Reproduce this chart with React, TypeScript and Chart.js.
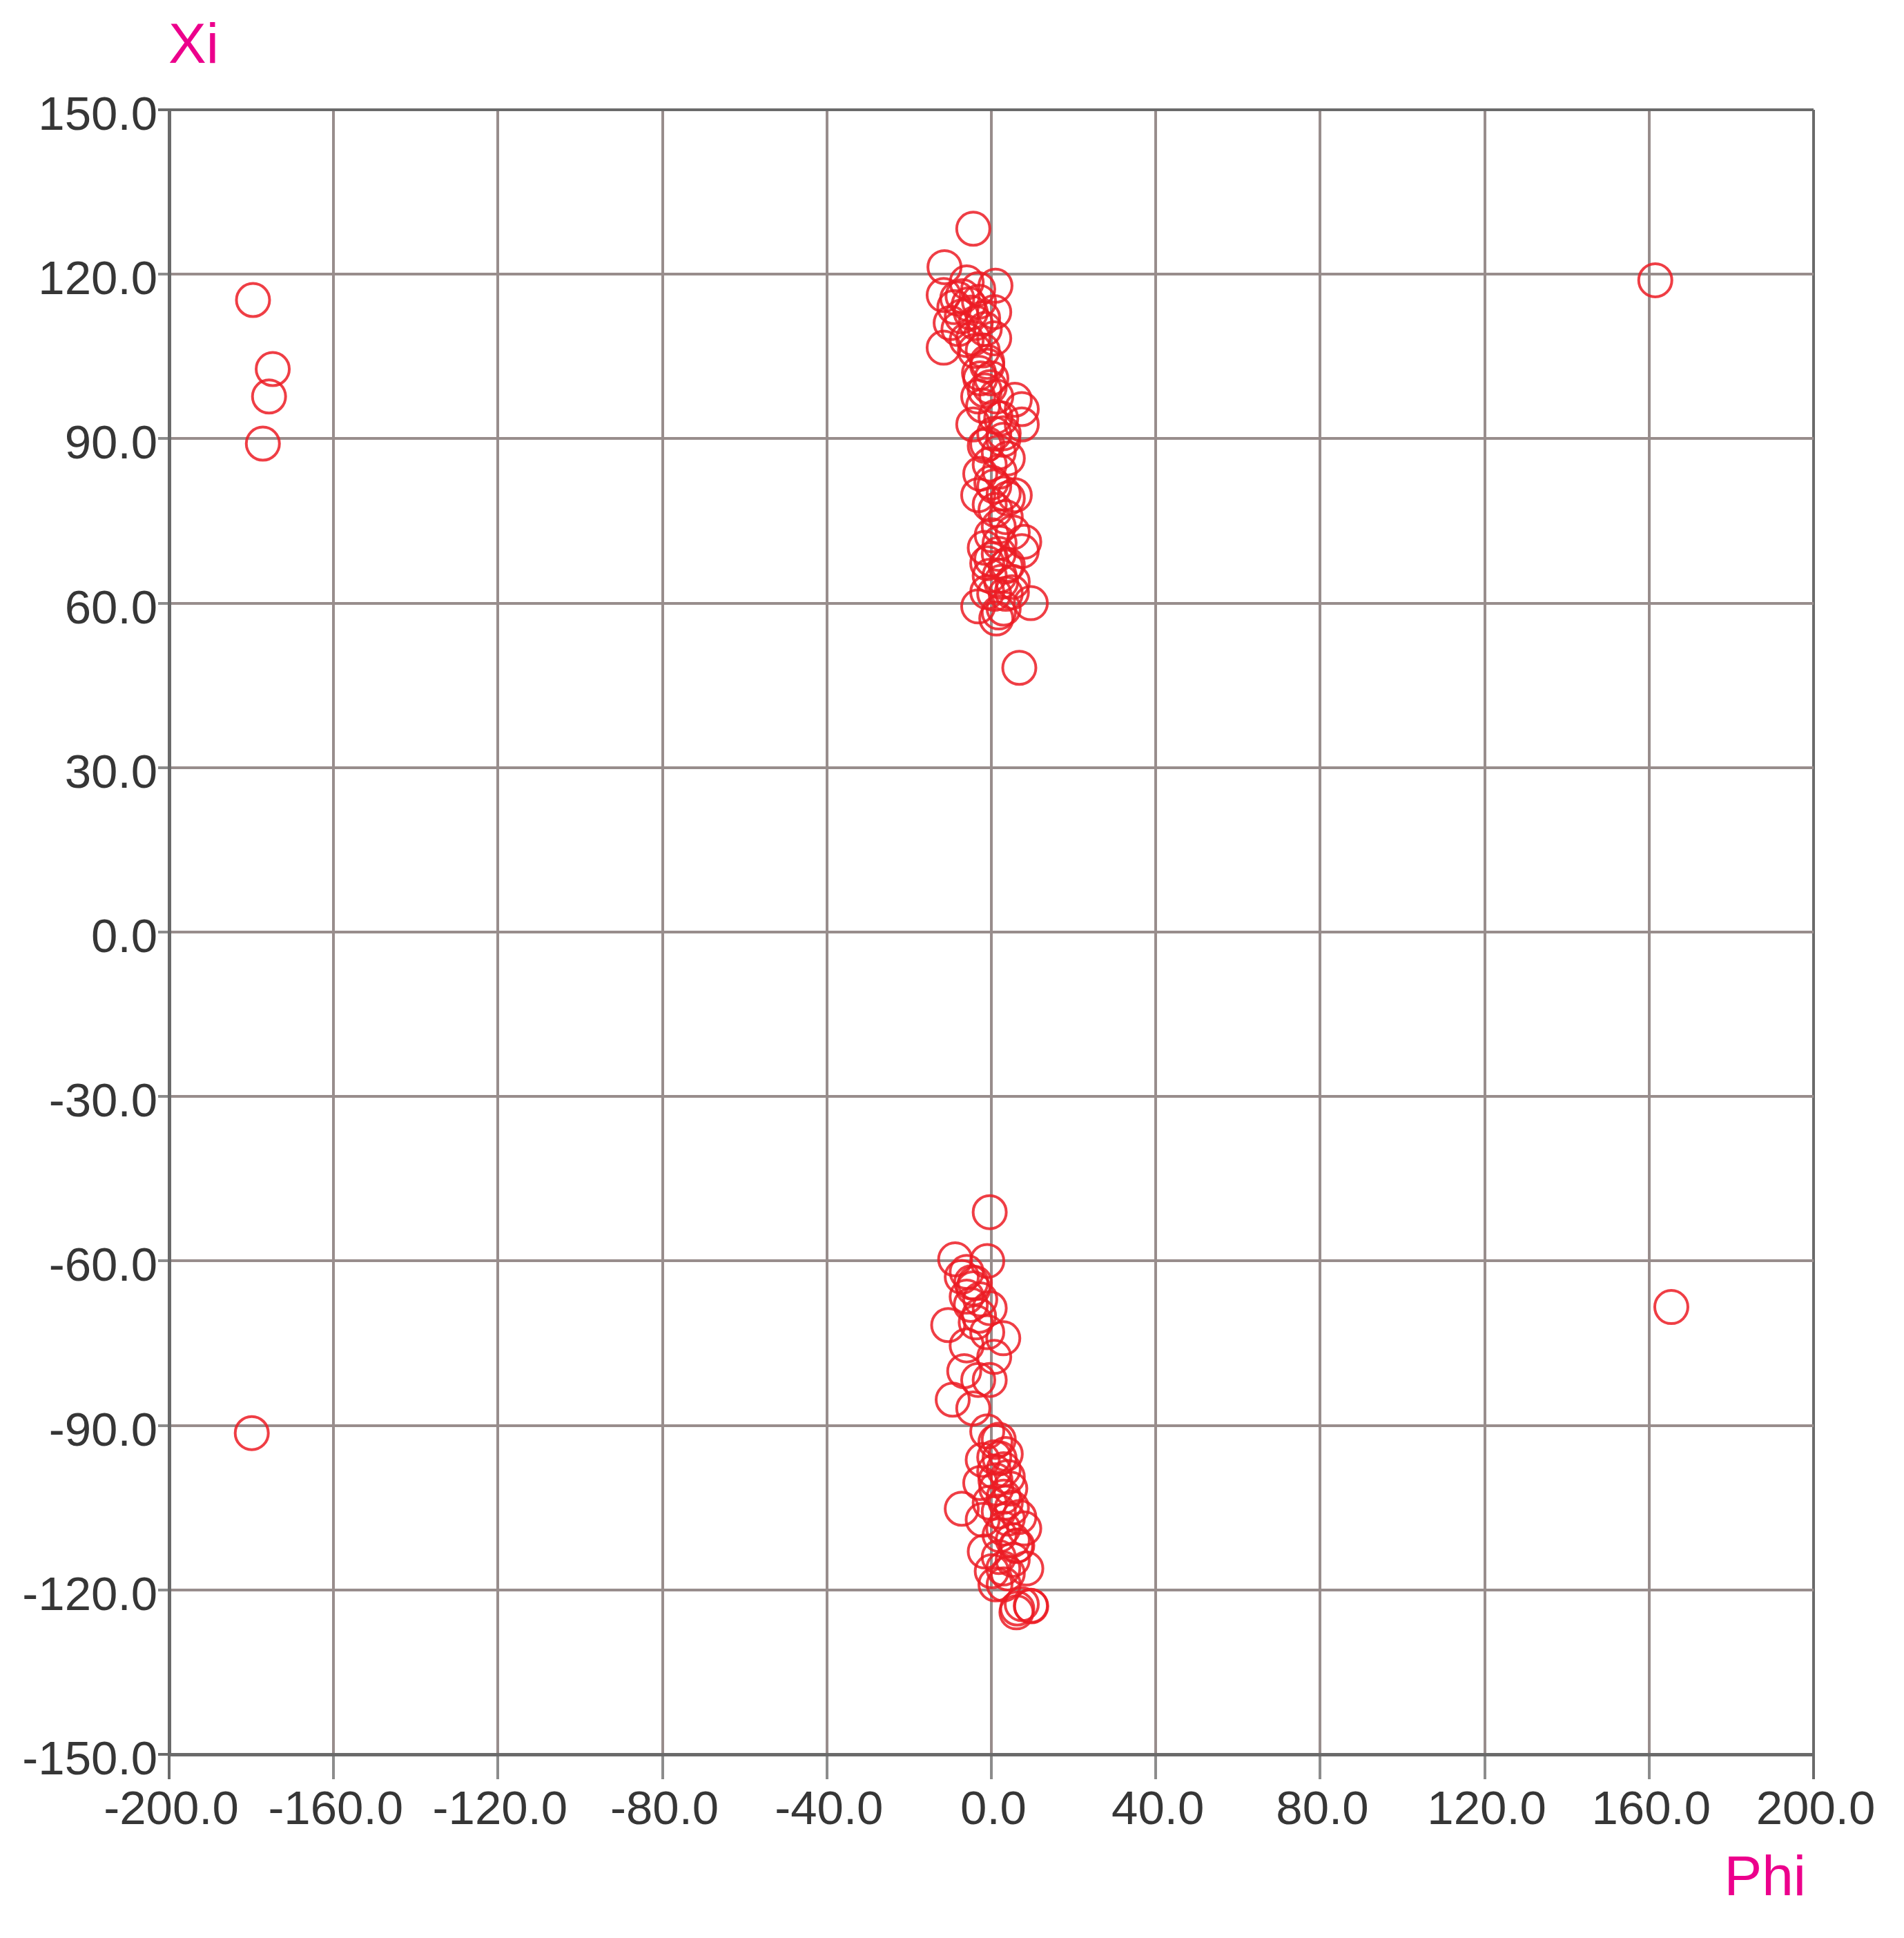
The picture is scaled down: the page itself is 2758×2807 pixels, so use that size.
import React, { useEffect, useRef } from "react";
import { Chart, registerables } from "chart.js";

Chart.register(...registerables);

const xTicks = [-200, -160, -120, -80, -40, 0, 40, 80, 120, 160, 200];
const yTicks = [-150, -120, -90, -60, -30, 0, 30, 60, 90, 120, 150];
const xTitle = "Phi";
const yTitle = "Xi";

const phiValues = [
  // isolated
  -179.6, -174.8, -175.7, -177.2, -179.9, 161.5, 165.4,
  // upper cluster
  -4.4, -11.4, 1.0, -11.6, -8.3, -5.5, 0.7, -9.9, -11.6, -4.4,
  -2.1, -1.6, -1.0, -2.7, -0.4, -3.2, 1.2, 5.7, 7.4, -4.4,
  2.4, 7.4, 0.7, -1.6, 1.8, 4.0, -0.4, -2.7, 0.7, -3.2,
  4.0, 5.7, -0.4, 1.8, 5.2, 8.0, -1.6, 1.8, 7.4, -1.0,
  3.5, -0.4, 2.4, 3.5, -3.2, 1.8, 9.6, 1.2, 6.8, -6.0,
  -3.2, -7.2, -3.8, 0.7, -1.6, 2.9, 0.1, 3.5, 0.7, 5.2,
  -9.0, -7.0, -5.0, -3.0, -8.0, -6.0, -2.0, -4.0, -1.0, -3.0,
  0.0, -2.0, 1.0, 3.0, -1.0, 2.0, 0.0, 3.0, 1.0, 2.0,
  0.0, 4.0, 2.0, 5.0, -1.0, 3.0,
  // lower cluster
  -0.4, -8.8, -1.0, -7.2, -4.4, -6.0, -2.7, -0.4, -10.5, -3.8,
  2.9, -6.0, 0.7, -6.6, -3.2, -0.4, -9.4, -4.4, -1.0, 1.8,
  3.5, -2.1, 0.7, 4.0, -2.7, 4.6, -7.2, -0.4, 1.8, 6.8,
  -2.1, 8.0, 2.9, 5.2, -1.6, 8.5, 1.8, 2.9, 0.1, 6.3,
  9.6, -4.9, 0.7, 1.2, 3.5, 6.3, 5.2, 6.1, 9.7, 7.4,
  -6.0, -4.0, -5.0, -3.0, -1.0, 1.0, 2.0, 3.0, 1.0, 3.0,
  5.0, 4.0, 2.0, 6.0, 4.0, 1.0, 3.0,
];

const xiValues = [
  // isolated
  115.3, 102.7, 97.7, 89.1, -91.4, 118.9, -68.4,
  // upper cluster
  128.3, 121.3, 117.9, 116.2, 115.6, 114.5, 113.1, 111.1, 106.6, 108.3,
  106.1, 110.0, 103.3, 101.0, 99.4, 97.7, 97.7, 97.1, 95.4, 92.6,
  93.7, 92.6, 90.9, 88.7, 87.5, 86.4, 85.3, 83.6, 81.3, 79.7,
  79.1, 79.7, 78.0, 74.0, 72.9, 71.2, 70.1, 69.0, 69.5, 67.3,
  66.7, 65.0, 63.9, 61.7, 59.4, 58.3, 60.0, 57.2, 48.2, 118.5,
  117.3, 112.3, 111.1, 108.3, 98.8, 89.8, 72.4, 75.7, 61.7, 63.9,
  114.0, 116.0, 113.0, 115.0, 110.0, 108.0, 112.0, 106.0, 104.0, 102.0,
  101.0, 96.0, 94.0, 91.0, 89.0, 84.0, 82.0, 80.0, 77.0, 71.0,
  68.0, 67.0, 65.0, 62.0, 62.0, 59.0,
  // lower cluster
  -51.1, -59.7, -60.0, -62.9, -65.0, -66.5, -67.0, -68.6, -71.7, -71.2,
  -74.1, -75.4, -77.5, -80.1, -81.7, -81.7, -85.3, -86.9, -91.1, -92.6,
  -95.2, -96.3, -98.4, -99.4, -100.5, -101.5, -105.2, -104.1, -105.7, -106.7,
  -107.2, -108.8, -108.8, -110.9, -113.0, -116.1, -114.0, -116.1, -116.6, -123.4,
  -122.9, -63.9, -95.8, -101.5, -104.1, -111.9, -114.5, -124.1, -123.0, -122.6,
  -62.0, -64.0, -68.0, -70.0, -73.0, -93.0, -96.0, -98.0, -100.0, -103.0,
  -105.0, -107.0, -110.0, -112.0, -117.0, -119.0, -119.0,
];

const W = 2758;
const H = 2807;
const PLOT_LEFT = 245;
const PLOT_RIGHT = 2627;
const PLOT_TOP = 159;
const PLOT_BOTTOM = 2541;

const FONT = "'Liberation Sans', Arial, Helvetica, sans-serif";
const GRID = "#988d8c";
const BORDER = "#6a6a6a";
const TICK_TEXT = "#363636";
const TITLE = "#ec008c";
const POINT = "rgba(236, 28, 36, 0.85)";

const titlePlugin = {
  id: "axisTitles",
  afterDraw(chart: any) {
    const ctx = chart.ctx;
    ctx.save();
    ctx.fillStyle = TITLE;
    ctx.font = `82px ${FONT}`;
    ctx.textBaseline = "alphabetic";
    ctx.textAlign = "left";
    ctx.fillText(yTitle, 244, 91);
    ctx.textAlign = "right";
    ctx.fillText(xTitle, 2616, 2745);
    ctx.restore();
  },
};

export default function App() {
  const ref = useRef<HTMLCanvasElement | null>(null);

  useEffect(() => {
    if (!ref.current) return;
    const data = phiValues.map((p, i) => ({ x: p, y: xiValues[i] }));
    const chart = new Chart(ref.current, {
      type: "scatter",
      data: {
        datasets: [
          {
            data,
            pointStyle: "circle",
            pointRadius: 24,
            pointBorderWidth: 4,
            pointBackgroundColor: "rgba(0,0,0,0)",
            pointBorderColor: POINT,
            pointHoverRadius: 24,
          },
        ],
      },
      options: {
        animation: false,
        responsive: false,
        devicePixelRatio: 1,
        events: [],
        layout: {
          padding: { left: 0, top: PLOT_TOP, right: W - PLOT_RIGHT, bottom: 0 },
        },
        plugins: {
          legend: { display: false },
          tooltip: { enabled: false },
          title: { display: false },
        },
        scales: {
          x: {
            type: "linear",
            position: "bottom",
            min: xTicks[0],
            max: xTicks[xTicks.length - 1],
            afterBuildTicks: (scale: any) => {
              scale.ticks = xTicks.map((v) => ({ value: v }));
            },
            afterFit: (scale: any) => {
              scale.height = H - PLOT_BOTTOM;
            },
            ticks: {
              callback: (v: any) => Number(v).toFixed(1),
              color: TICK_TEXT,
              font: { size: 69, family: FONT },
              padding: 5,
              maxRotation: 0,
              autoSkip: false,
              labelOffset: 3,
            },
            grid: {
              color: (c: any) => (c.tick && c.tick.value === 200 ? BORDER : GRID),
              tickColor: (c: any) => (c.tick && (c.tick.value === 200 || c.tick.value === -200) ? BORDER : "#8c8c8c"),
              lineWidth: 4,
              tickLength: 36,
              drawTicks: true,
            },
            border: { color: BORDER, width: 5 },
          },
          y: {
            type: "linear",
            position: "left",
            min: yTicks[0],
            max: yTicks[yTicks.length - 1],
            afterBuildTicks: (scale: any) => {
              scale.ticks = yTicks.map((v) => ({ value: v }));
            },
            afterFit: (scale: any) => {
              scale.width = PLOT_LEFT;
            },
            ticks: {
              callback: (v: any) => Number(v).toFixed(1),
              color: TICK_TEXT,
              font: { size: 69, family: FONT },
              padding: 1,
              autoSkip: false,
              labelOffset: 10,
            },
            grid: {
              color: (c: any) => (c.tick && c.tick.value === 150 ? BORDER : GRID),
              tickColor: (c: any) => (c.tick && (c.tick.value === 150 || c.tick.value === -150) ? BORDER : "#8c8c8c"),
              lineWidth: 4,
              tickLength: 16,
              drawTicks: true,
            },
            border: { color: BORDER, width: 5 },
          },
        },
      },
      plugins: [titlePlugin],
    });
    return () => chart.destroy();
  }, []);

  return (
    <div style={{ position: "absolute", left: 0, top: 0, width: W, height: H, background: "#fff" }}>
      <canvas ref={ref} width={W} height={H} style={{ width: W, height: H, display: "block" }} />
    </div>
  );
}
